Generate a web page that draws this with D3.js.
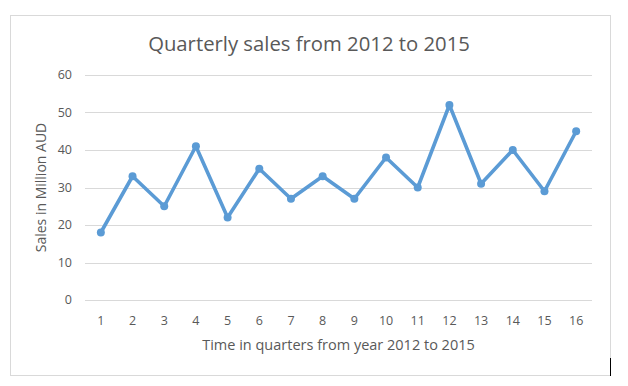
<!DOCTYPE html>
<html>
<head>
<meta charset="utf-8">
<script src="https://cdn.jsdelivr.net/npm/d3@7"></script>
<style>
  body { margin: 0; background: #fff; }
  text { font-family: "Open Sans", "Noto Sans", sans-serif; fill: #595959; }
</style>
</head>
<body>
<div id="chart"></div>
<script>
var quarters = ["1", "2", "3", "4", "5", "6", "7", "8", "9", "10", "11", "12", "13", "14", "15", "16"]
var sales = [18, 33, 25, 41, 22, 35, 27, 33, 27, 38, 30, 52, 31, 40, 29, 45]
var yTicks = [0, 10, 20, 30, 40, 50, 60]

var width = 628, height = 386
var margin = { top: 75, right: 36, bottom: 86, left: 85 }

var svg = d3.select("#chart").append("svg")
    .attr("width", width)
    .attr("height", height)

// chart border
svg.append("rect")
    .attr("x", 10.5).attr("y", 15.5)
    .attr("width", 600).attr("height", 360)
    .attr("fill", "none")
    .attr("stroke", "#d9d9d9")

var x = d3.scalePoint()
    .domain(quarters)
    .range([margin.left, width - margin.right])
    .padding(0.5)

var y = d3.scaleLinear()
    .domain([0, 60])
    .range([height - margin.bottom, margin.top])

// gridlines
svg.append("g")
    .selectAll("line")
    .data(yTicks)
    .enter().append("line")
    .attr("x1", margin.left).attr("x2", width - margin.right)
    .attr("y1", function(d) { return Math.round(y(d)) + 0.5 })
    .attr("y2", function(d) { return Math.round(y(d)) + 0.5 })
    .attr("stroke", "#d9d9d9")
    .attr("stroke-width", 1)

// y labels
svg.append("g")
    .selectAll("text")
    .data(yTicks)
    .enter().append("text")
    .attr("x", 72)
    .attr("y", function(d) { return y(d) })
    .attr("dy", "0.35em")
    .attr("text-anchor", "end")
    .style("font-size", "12.5px")
    .text(function(d) { return d })

// x labels
svg.append("g")
    .selectAll("text")
    .data(quarters)
    .enter().append("text")
    .attr("x", function(d) { return x(d) })
    .attr("y", 325)
    .attr("text-anchor", "middle")
    .style("font-size", "12.5px")
    .text(function(d) { return d })

// line
var line = d3.line()
    .x(function(d, i) { return x(quarters[i]) })
    .y(function(d) { return y(d) })

svg.append("path")
    .datum(sales)
    .attr("d", line)
    .attr("fill", "none")
    .attr("stroke", "#5b9bd5")
    .attr("stroke-width", 3.6)
    .attr("stroke-linejoin", "round")

svg.append("g")
    .selectAll("circle")
    .data(sales)
    .enter().append("circle")
    .attr("cx", function(d, i) { return x(quarters[i]) })
    .attr("cy", function(d) { return y(d) })
    .attr("r", 4)
    .attr("fill", "#5b9bd5")

// titles
svg.append("text")
    .attr("x", 309).attr("y", 51)
    .attr("text-anchor", "middle")
    .style("font-size", "20.3px")
    .text("Quarterly sales from 2012 to 2015")

svg.append("text")
    .attr("x", (margin.left + width - margin.right) / 2)
    .attr("y", 350)
    .attr("text-anchor", "middle")
    .style("font-size", "14.5px")
    .text("Time in quarters from year 2012 to 2015")

svg.append("text")
    .attr("transform", "translate(46," + (y(30)) + ") rotate(-90)")
    .attr("text-anchor", "middle")
    .style("font-size", "14px")
    .text("Sales in Million AUD")

// stray cursor mark at bottom right
svg.append("line")
    .attr("x1", 610.5).attr("x2", 610.5)
    .attr("y1", 358).attr("y2", 376)
    .attr("stroke", "#000")
    .attr("stroke-width", 1)
</script>
</body>
</html>
